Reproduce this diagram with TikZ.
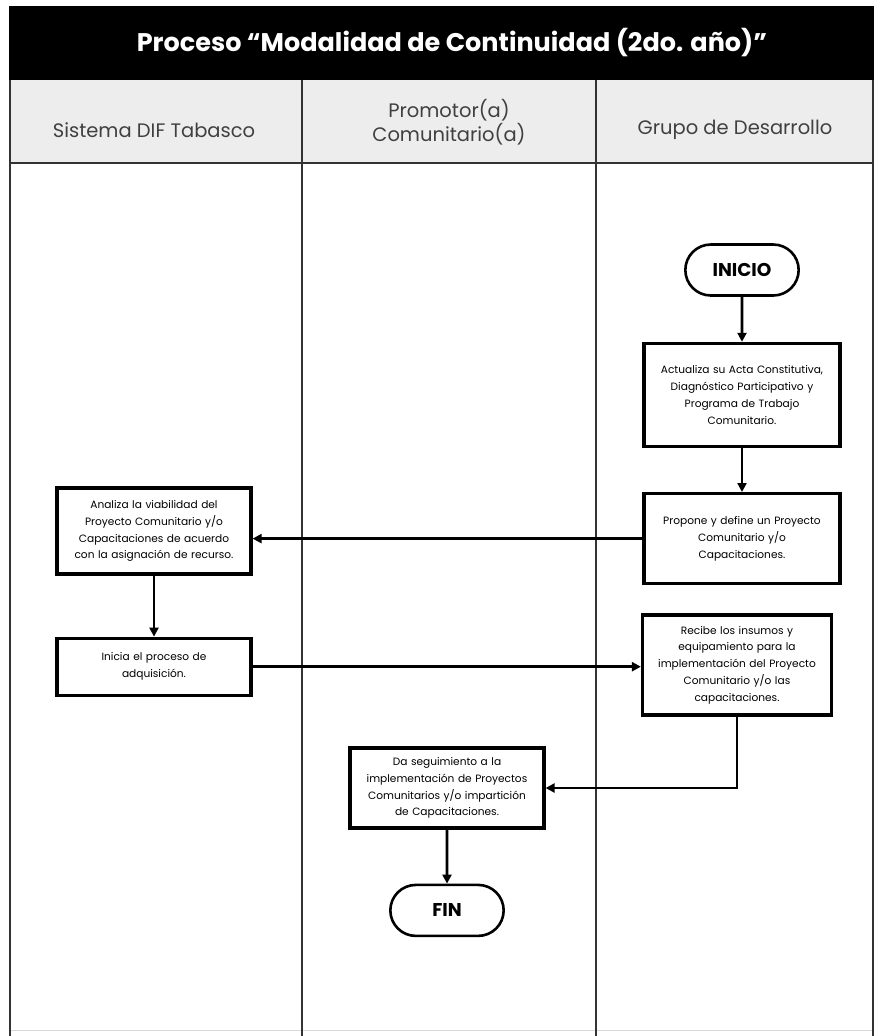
\documentclass[tikz,border=0pt]{standalone}
\usepackage{fontspec}
\setmainfont{Poppins}
\usepackage{tikz}
\usetikzlibrary{positioning,arrows.meta,shapes.misc}

\begin{document}
\begin{tikzpicture}[
  x=1pt, y=1pt,
  node distance=45pt and 40pt,
  every node/.style={font=\fontsize{10.6}{16.8}\selectfont},
  lane/.style={draw=black!80, line width=1.8pt},
  box/.style={draw, line width=3.2pt, align=center, inner sep=3pt, text width=190pt},
  term/.style={draw, line width=2.6pt, rounded rectangle, minimum width=120pt, minimum height=51pt, font=\fontsize{18.5}{22}\selectfont\bfseries},
  arrow/.style={-{Triangle[length=9pt,width=9pt]}, line width=2.8pt}
]
\useasboundingbox (0,0) rectangle (877,-1036);

% marco y carriles
\fill[black] (9,-6) rectangle (874,-80);
\fill[black!7] (9,-80) rectangle (874,-163);
\draw[black!15, line width=1pt] (10,-1030) -- (873,-1030);
\draw[lane] (9,-163) -- (874,-163);
\draw[lane] (10,-80) -- (10,-1036);
\draw[lane] (302,-80) -- (302,-1036);
\draw[lane] (596,-80) -- (596,-1036);
\draw[lane] (873,-80) -- (873,-1036);

\node[text=white, font=\fontsize{25.5}{30}\selectfont\bfseries] (title) at (452,-43) {Proceso “Modalidad de Continuidad (2do. año)”};
\node[text=black!75, font=\fontsize{19.5}{24}\selectfont] (dif) at (154,-130) {Sistema DIF Tabasco};
\node[text=black!75, align=center, font=\fontsize{19.5}{24}\selectfont] (prom) at (449,-122) {Promotor(a)\\Comunitario(a)};
\node[text=black!75, font=\fontsize{19.5}{24}\selectfont] (grupo) at (735,-130) {Grupo de Desarrollo};

% nodos
\node[term] (inicio) at (742,-270) {INICIO};
\node[box, minimum height=103pt, below=45pt of inicio] (acta) {Actualiza su Acta Constitutiva,\\Diagnóstico Participativo y\\Programa de Trabajo\\Comunitario.};
\node[box, minimum height=90pt, below=44pt of acta] (propone) {Propone y define un Proyecto\\Comunitario y/o\\Capacitaciones.};
\node[box, minimum height=86pt, text width=188pt] (analiza) at (154,-531) {Analiza la viabilidad del\\Proyecto Comunitario y/o\\Capacitaciones de acuerdo\\con la asignación de recurso.};
\node[box, minimum height=57pt, text width=188pt, below=61pt of analiza] (inicia) {Inicia el proceso de\\adquisición.};
\node[box, minimum height=100pt, text width=183pt] (recibe) at (737,-665) {Recibe los insumos y\\equipamiento para la\\implementación del Proyecto\\Comunitario y/o las\\capacitaciones.};
\node[box, minimum height=80pt, text width=188pt] (seguimiento) at (447,-788) {Da seguimiento a la\\implementación de Proyectos\\Comunitarios y/o impartición\\de Capacitaciones.};
\node[term, below=54pt of seguimiento] (fin) {FIN};

% flechas
\draw[arrow] (inicio) -- (acta);
\draw[arrow] (acta) -- (propone);
\draw[arrow] (propone.west) -- (propone.west -| analiza.east);
\draw[arrow] (analiza) -- (inicia);
\draw[arrow] (inicia.east) -- (inicia.east -| recibe.west);
\draw[arrow] (recibe.south) |- (seguimiento.east);
\draw[arrow] (seguimiento) -- (fin);
\end{tikzpicture}
\end{document}
